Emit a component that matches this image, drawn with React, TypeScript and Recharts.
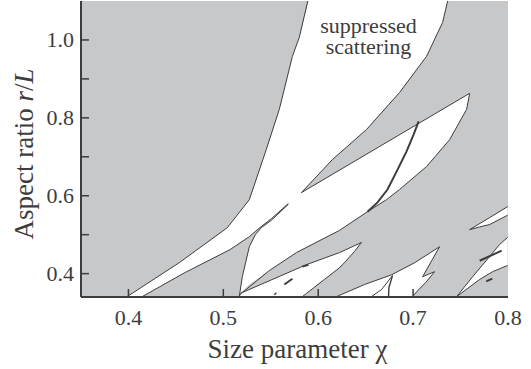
import React from 'react'
import {
  ComposedChart,
  Area,
  Line,
  XAxis,
  YAxis,
  CartesianGrid,
  ReferenceDot
} from 'recharts'

const GRAY = '#c7c8ca'
const INK = '#3d3d3d'
const FONT = '"Liberation Serif", "Times New Roman", serif'

const xTicks = [0.4, 0.5, 0.6, 0.7, 0.8]
const yTicks = [0.4, 0.5, 0.6, 0.7, 0.8, 0.9, 1.0]

// white regions / gray overlays as [x, lower, upper]
const mainBand: number[][] = [
  [0.3986, 0.34, 0.341],
  [0.4535, 0.34, 0.428],
  [0.5042, 0.34, 0.518],
  [0.5168, 0.34, 0.558],
  [0.5179, 0.35, 0.56],
  [0.5274, 0.372, 0.59],
  [0.5453, 0.403, 0.719],
  [0.559, 0.425, 0.822],
  [0.5728, 0.447, 0.958],
  [0.5801, 0.458, 1.007],
  [0.5897, 0.47, 1.1],
  [0.6224, 0.511, 1.1],
  [0.6519, 0.559, 1.1],
  [0.672, 0.59, 1.1],
  [0.6857, 0.616, 1.1],
  [0.7142, 0.675, 1.1],
  [0.7385, 0.744, 1.1],
  [0.7564, 0.822, 1.1],
  [0.7596, 0.863, 1.1]
]

const tongue: number[][] = [
  [0.5823, 0.608, 0.608],
  [0.615, 0.655, 0.693],
  [0.6509, 0.707, 0.77],
  [0.6857, 0.757, 0.865],
  [0.7142, 0.798, 0.958],
  [0.7311, 0.822, 1.045],
  [0.7364, 0.83, 1.1],
  [0.7596, 0.863, 1.1],
  [0.763, 0.866, 1.1]
]

const wedge: number[][] = [
  [0.4145, 0.34, 0.341],
  [0.4598, 0.34, 0.403],
  [0.5073, 0.34, 0.462],
  [0.5168, 0.34, 0.478],
  [0.52, 0.392, 0.483],
  [0.5274, 0.469, 0.495],
  [0.5337, 0.5, 0.508],
  [0.54, 0.518, 0.521],
  [0.5506, 0.537, 0.541],
  [0.5685, 0.578, 0.58]
]

const lowTongue: number[][] = [
  [0.5185, 0.34, 0.35],
  [0.5833, 0.34, 0.419],
  [0.5875, 0.349, 0.423],
  [0.6065, 0.385, 0.44],
  [0.6224, 0.415, 0.454],
  [0.6276, 0.428, 0.46],
  [0.6382, 0.457, 0.472],
  [0.6456, 0.48, 0.48]
]

const midTongue: number[][] = [
  [0.6192, 0.34, 0.341],
  [0.6488, 0.34, 0.372],
  [0.6773, 0.34, 0.397],
  [0.6994, 0.34, 0.425],
  [0.7016, 0.347, 0.428],
  [0.7047, 0.356, 0.433],
  [0.7132, 0.377, 0.446],
  [0.7227, 0.405, 0.461],
  [0.7279, 0.469, 0.469]
]

const notch: number[][] = [
  [0.71, 0.392, 0.392],
  [0.7195, 0.402, 0.433],
  [0.7227, 0.405, 0.447],
  [0.7279, 0.469, 0.469]
]

const cornerBand: number[][] = [
  [0.7459, 0.341, 0.341],
  [0.7627, 0.372, 0.392],
  [0.7701, 0.385, 0.413],
  [0.7807, 0.4, 0.444],
  [0.7838, 0.405, 0.453],
  [0.7912, 0.412, 0.475],
  [0.7996, 0.421, 0.493]
]

const edgeTongue: number[][] = [
  [0.7596, 0.513, 0.513],
  [0.7701, 0.52, 0.529],
  [0.7807, 0.526, 0.544],
  [0.7996, 0.55, 0.572]
]

// boundary curves as [x, y]
const leftEdge = [
  [0.3986, 0.341], [0.4535, 0.428], [0.5042, 0.518], [0.5274, 0.59],
  [0.5453, 0.719], [0.559, 0.822], [0.5728, 0.958], [0.5801, 1.007], [0.589, 1.1]
]
const bandLower = [
  [0.5174, 0.346], [0.5485, 0.408], [0.577, 0.454], [0.6224, 0.511],
  [0.6519, 0.559], [0.672, 0.59], [0.6857, 0.616], [0.7142, 0.675],
  [0.7385, 0.744], [0.7564, 0.822], [0.7596, 0.863]
]
const upperRight = [
  [0.5823, 0.608], [0.615, 0.693], [0.6509, 0.77], [0.6857, 0.865],
  [0.7142, 0.958], [0.7311, 1.045], [0.7364, 1.1]
]
const tongueLower = [[0.5823, 0.608], [0.7596, 0.863]]
const wedgeUpper = [
  [0.4145, 0.341], [0.4598, 0.403], [0.5073, 0.462], [0.5274, 0.495],
  [0.54, 0.521], [0.5506, 0.541], [0.5685, 0.58]
]
const wedgeRight = [
  [0.5168, 0.341], [0.52, 0.392], [0.5274, 0.469], [0.5337, 0.5],
  [0.54, 0.518], [0.5506, 0.537], [0.5685, 0.578]
]
const lineB = [[0.5185, 0.35], [0.5875, 0.423], [0.6224, 0.454], [0.6456, 0.48]]
const lowTongueEdge = [
  [0.5833, 0.341], [0.5875, 0.349], [0.6065, 0.385], [0.6224, 0.415],
  [0.6276, 0.428], [0.6382, 0.457], [0.6456, 0.48]
]
const midUpper = [[0.6192, 0.341], [0.6488, 0.372], [0.6773, 0.397], [0.7016, 0.428], [0.7279, 0.469]]
const midRight = [
  [0.7279, 0.469], [0.7195, 0.433], [0.71, 0.392], [0.7227, 0.405],
  [0.7132, 0.377], [0.7047, 0.356], [0.6994, 0.341]
]
const spikeA = [[0.6561, 0.341], [0.6667, 0.359], [0.6783, 0.395]]
const spikeB = [[0.6741, 0.341], [0.6745, 0.364], [0.6783, 0.395]]
const cornerUpper = [[0.7459, 0.341], [0.7627, 0.392], [0.7807, 0.444], [0.7912, 0.475], [0.7996, 0.493]]
const cornerLower = [[0.7459, 0.341], [0.7701, 0.385], [0.7838, 0.405], [0.7996, 0.421]]
const edgeUpper = [[0.7596, 0.513], [0.7807, 0.544], [0.7996, 0.572]]
const edgeLower = [[0.7596, 0.513], [0.7701, 0.52], [0.7807, 0.526], [0.7996, 0.55]]

// heavier cuts and dashes
const innerCurve = [
  [0.7058, 0.791], [0.7005, 0.757], [0.6931, 0.714], [0.6836, 0.667],
  [0.673, 0.616], [0.6625, 0.583], [0.6519, 0.559]
]
const dash1 = [[0.5643, 0.372], [0.5728, 0.387]]
const dash2 = [[0.5538, 0.346], [0.5559, 0.351]]
const dash3 = [[0.5833, 0.418], [0.5897, 0.423]]
const cornerCut = [[0.7701, 0.433], [0.7933, 0.459]]
const cornerDash = [[0.7771, 0.38], [0.7834, 0.387]]

const toRange = (rows: number[][]) => rows.map(([x, lo, hi]) => ({ x, r: [lo, hi] }))
const toPath = (rows: number[][]) => rows.map(([x, y]) => ({ x, y }))

const areas = [
  { id: 'main', rows: mainBand, fill: '#ffffff' },
  { id: 'tongue', rows: tongue, fill: GRAY },
  { id: 'wedge', rows: wedge, fill: GRAY },
  { id: 'low', rows: lowTongue, fill: '#ffffff' },
  { id: 'mid', rows: midTongue, fill: '#ffffff' },
  { id: 'notch', rows: notch, fill: GRAY },
  { id: 'corner', rows: cornerBand, fill: '#ffffff' },
  { id: 'edge', rows: edgeTongue, fill: '#ffffff' }
]

const lines = [
  { id: 'l1', rows: leftEdge, w: 1 },
  { id: 'l2', rows: bandLower, w: 1 },
  { id: 'l3', rows: upperRight, w: 1 },
  { id: 'l4', rows: tongueLower, w: 1 },
  { id: 'l5', rows: wedgeUpper, w: 1 },
  { id: 'l6', rows: wedgeRight, w: 1 },
  { id: 'l7', rows: lineB, w: 1 },
  { id: 'l8', rows: lowTongueEdge, w: 1 },
  { id: 'l9', rows: midUpper, w: 1 },
  { id: 'l10', rows: midRight, w: 1 },
  { id: 'l11', rows: spikeA, w: 1 },
  { id: 'l12', rows: spikeB, w: 1.4 },
  { id: 'l13', rows: cornerUpper, w: 1 },
  { id: 'l14', rows: cornerLower, w: 1 },
  { id: 'l15', rows: edgeUpper, w: 1 },
  { id: 'l16', rows: edgeLower, w: 1 },
  { id: 'l17', rows: innerCurve, w: 2 },
  { id: 'l18', rows: dash1, w: 2 },
  { id: 'l19', rows: dash2, w: 1.5 },
  { id: 'l20', rows: dash3, w: 2 },
  { id: 'l21', rows: cornerCut, w: 2 },
  { id: 'l22', rows: cornerDash, w: 2 }
]

// eslint-disable-next-line @typescript-eslint/no-explicit-any
const BottomTick = ({ x, y, payload }: any) => (
  <g>
    {payload.value < 0.79 && <line x1={x} x2={x} y1={y} y2={y - 8} stroke={INK} strokeWidth={1.5} />}
    <text x={x} y={y + 28} textAnchor="middle" fontSize={22} fontFamily={FONT} fill={INK}>
      {payload.value.toFixed(1)}
    </text>
  </g>
)

// eslint-disable-next-line @typescript-eslint/no-explicit-any
const TopTick = ({ x, y, payload }: any) =>
  payload.value < 0.79 ? <line x1={x} x2={x} y1={y} y2={y + 8} stroke={INK} strokeWidth={1.5} /> : <g />

// eslint-disable-next-line @typescript-eslint/no-explicit-any
const LeftTick = ({ x, y, payload }: any) => {
  const labelled = Math.round(payload.value * 10) % 2 === 0
  return (
    <g>
      <line x1={x} x2={x + 8} y1={y} y2={y} stroke={INK} strokeWidth={1.5} />
      {labelled && (
        <text x={x - 7} y={y + 7.5} textAnchor="end" fontSize={22} fontFamily={FONT} fill={INK}>
          {payload.value.toFixed(1)}
        </text>
      )}
    </g>
  )
}

// eslint-disable-next-line @typescript-eslint/no-explicit-any
const RightTick = ({ x, y }: any) => <line x1={x} x2={x - 8} y1={y} y2={y} stroke={INK} strokeWidth={1.5} />

// eslint-disable-next-line @typescript-eslint/no-explicit-any
const xTitle = (props: any) => {
  const { x, y, width } = props.viewBox
  return (
    <text x={x + width / 2 + 3} y={y + 61} textAnchor="middle" fontSize={27} fontFamily={FONT} fill={INK}>
      Size parameter χ
    </text>
  )
}

// eslint-disable-next-line @typescript-eslint/no-explicit-any
const yTitle = (props: any) => {
  const { x, y, height } = props.viewBox
  const cx = x + 12
  const cy = y + height / 2 + 5
  return (
    <text
      x={cx}
      y={cy}
      transform={`rotate(-90 ${cx} ${cy})`}
      textAnchor="middle"
      fontSize={27}
      fontFamily={FONT}
      fill={INK}
    >
      Aspect ratio <tspan fontStyle="italic">r</tspan>/<tspan fontStyle="italic">L</tspan>
    </text>
  )
}

// eslint-disable-next-line @typescript-eslint/no-explicit-any
const noteLabel = (props: any) => {
  const { x, y } = props.viewBox
  return (
    <g>
      <text x={x} y={y} textAnchor="middle" fontSize={22} fontFamily={FONT} fill={INK}>
        suppressed
      </text>
      <text x={x} y={y + 21} textAnchor="middle" fontSize={22} fontFamily={FONT} fill={INK}>
        scattering
      </text>
    </g>
  )
}

export default function App(): React.JSX.Element {
  return (
    <div style={{ position: 'absolute', left: 0, top: 0, width: 531, height: 369, background: '#fff' }}>
      <ComposedChart width={531} height={369} margin={{ top: 1, right: 23, bottom: 42, left: 21 }}>
        <CartesianGrid fill={GRAY} horizontal={false} vertical={false} stroke="none" />

        {areas.map((a) => (
          <Area
            key={a.id}
            data={toRange(a.rows)}
            dataKey="r"
            type="linear"
            fill={a.fill}
            fillOpacity={1}
            stroke="none"
            isAnimationActive={false}
            activeDot={false}
          />
        ))}

        {lines.map((l) => (
          <Line
            key={l.id}
            data={toPath(l.rows)}
            dataKey="y"
            type="linear"
            stroke={INK}
            strokeWidth={l.w}
            dot={false}
            activeDot={false}
            isAnimationActive={false}
          />
        ))}

        <ReferenceDot x={0.653} y={1.017} r={0} fill="none" stroke="none" label={noteLabel} />

        <XAxis
          xAxisId={0}
          type="number"
          dataKey="x"
          domain={[0.35, 0.8]}
          ticks={xTicks}
          interval={0}
          allowDataOverflow
          height={30}
          tickSize={0}
          tickMargin={0}
          tickLine={false}
          axisLine={{ stroke: INK, strokeWidth: 2 }}
          tick={<BottomTick />}
          label={xTitle}
        />
        <XAxis
          xAxisId="top"
          orientation="top"
          type="number"
          dataKey="x"
          domain={[0.35, 0.8]}
          ticks={xTicks}
          interval={0}
          allowDataOverflow
          height={0}
          tickSize={0}
          tickMargin={0}
          tickLine={false}
          axisLine={{ stroke: INK, strokeWidth: 1.5 }}
          tick={<TopTick />}
        />
        <YAxis
          yAxisId={0}
          type="number"
          domain={[0.34, 1.1]}
          ticks={yTicks}
          interval={0}
          allowDataOverflow
          width={60}
          tickSize={0}
          tickMargin={0}
          tickLine={false}
          axisLine={{ stroke: INK, strokeWidth: 2 }}
          tick={<LeftTick />}
          label={yTitle}
        />
        <YAxis
          yAxisId="right"
          orientation="right"
          type="number"
          domain={[0.34, 1.1]}
          ticks={yTicks}
          interval={0}
          allowDataOverflow
          width={0}
          tickSize={0}
          tickMargin={0}
          tickLine={false}
          axisLine={{ stroke: INK, strokeWidth: 1.5 }}
          tick={<RightTick />}
        />
      </ComposedChart>
    </div>
  )
}
